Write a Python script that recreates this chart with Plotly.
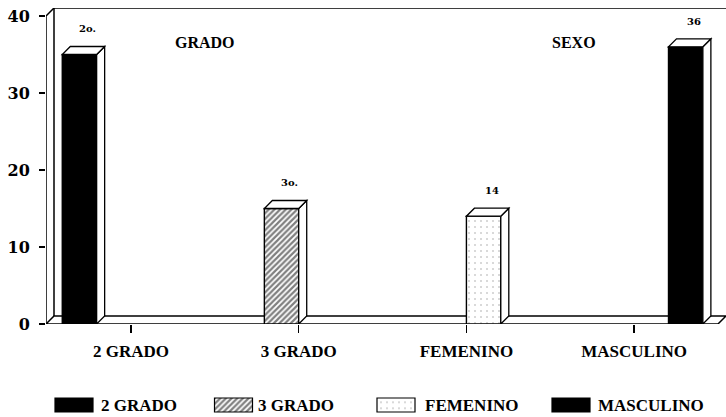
import plotly.graph_objects as go

# ---- data ----
CATEGORIES = ["2 GRADO", "3 GRADO", "FEMENINO", "MASCULINO"]
VALUES = [35, 15, 14, 36]
VALUE_LABELS = ["2o.", "3o.", "14", "36"]
GROUP_LABELS = ["GRADO", "SEXO"]
Y_TICKS = [0, 10, 20, 30, 40]

# ---- styles ----
FILLS = [
    dict(color="black", pattern=dict(shape="")),
    dict(color="white", pattern=dict(shape="/", fgcolor="black", bgcolor="white", size=4, solidity=0.55)),
    dict(color="white", pattern=dict(shape=".", fgcolor="#a0a0a0", bgcolor="white", size=6, solidity=0.1)),
    dict(color="black", pattern=dict(shape="")),
]
SERIF = "Liberation Serif"
W, H = 726, 417
X0PX, X1PX = 46, 726          # plot area horizontal pixels
Y0PX, Y1PX = 324, 8           # plot area vertical pixels (bottom, top)
CAT_PX = 167.7
XMIN = -0.507
XMAX = XMIN + (X1PX - X0PX) / CAT_PX
PX_PER_UNIT = 7.7
YMAX = (Y0PX - Y1PX) / PX_PER_UNIT
DX = 8 / CAT_PX
DY = 8 / PX_PER_UNIT
BAR_W = 0.205
BAR_OFF0 = -0.41
FLOOR_END = 3.5
TOPV = Y_TICKS[-1]

fig = go.Figure()

shapes = []
LINE = dict(color="black", width=1.5)
# back wall
shapes.append(dict(type="path", xref="x", yref="y", layer="below",
                   path=f"M{XMIN+DX},{DY} L{XMIN+DX},{TOPV+DY} L{XMAX+1},{TOPV+DY}",
                   line=LINE))
# front axis
shapes.append(dict(type="path", xref="x", yref="y", layer="below",
                   path=f"M{XMIN},0 L{XMIN},{TOPV} L{XMIN+DX},{TOPV+DY}",
                   line=LINE))
# floor
shapes.append(dict(type="path", xref="x", yref="y", layer="below",
                   path=f"M{XMIN},0 L{FLOOR_END},0 L{FLOOR_END+DX},{DY} L{XMIN+DX},{DY} Z",
                   line=LINE, fillcolor="white"))

annotations = []
for i, (cat, v) in enumerate(zip(CATEGORIES, VALUES)):
    off = BAR_OFF0 + i * BAR_W
    fig.add_trace(go.Bar(x=[i], y=[v], width=BAR_W, offset=off,
                         marker=dict(color=FILLS[i]["color"], pattern=FILLS[i]["pattern"],
                                     line=dict(color="black", width=1.4)),
                         showlegend=False, hoverinfo="skip"))
    x0 = i + off
    x1 = x0 + BAR_W
    # side face
    shapes.append(dict(type="path", xref="x", yref="y", layer="above",
                       path=f"M{x1},0 L{x1+DX},{DY} L{x1+DX},{v+DY} L{x1},{v} Z",
                       line=dict(color="black", width=1.3), fillcolor="white"))
    # top face
    shapes.append(dict(type="path", xref="x", yref="y", layer="above",
                       path=f"M{x0},{v} L{x1},{v} L{x1+DX},{v+DY} L{x0+DX},{v+DY} Z",
                       line=dict(color="black", width=1.3), fillcolor="white"))
    annotations.append(dict(x=(x0 + x1) / 2 + DX, y=v + DY + 2.3, xref="x", yref="y",
                            text=VALUE_LABELS[i], showarrow=False,
                            font=dict(family="DejaVu Serif", size=10, color="black", weight="bold")))

# group labels
for gx, lab in zip([0.44, 2.64], GROUP_LABELS):
    annotations.append(dict(x=gx, y=(Y0PX - 42) / PX_PER_UNIT, xref="x", yref="y", text=lab,
                            showarrow=False,
                            font=dict(family=SERIF, size=16, color="black", weight="bold")))

# custom legend on a hidden axis pair (units: pixels)
LEG_CX = [74, 233.5, 396, 571]
LEG_TX = [99, 256, 423, 596]
for i, cat in enumerate(CATEGORIES):
    fig.add_trace(go.Bar(x=[LEG_CX[i]], y=[14], base=[5], width=38, offset=-19,
                         xaxis="x2", yaxis="y2",
                         marker=dict(color=FILLS[i]["color"], pattern=FILLS[i]["pattern"],
                                     line=dict(color="black", width=1.2)),
                         showlegend=False, hoverinfo="skip"))
    annotations.append(dict(x=LEG_TX[i], y=12, xref="x2", yref="y2", text=cat,
                            xanchor="left", showarrow=False,
                            font=dict(family=SERIF, size=17, color="black", weight="bold")))

fig.update_layout(
    width=W, height=H,
    margin=dict(l=0, r=0, t=0, b=0, autoexpand=False),
    paper_bgcolor="white", plot_bgcolor="white",
    barmode="overlay",
    showlegend=False,
    shapes=shapes,
    annotations=annotations,
    xaxis=dict(domain=[X0PX / W, X1PX / W], range=[XMIN, XMAX], automargin=False,
               tickvals=list(range(len(CATEGORIES))), ticktext=CATEGORIES,
               ticks="outside", ticklen=8, tickwidth=1.3, tickcolor="black",
               showgrid=False, zeroline=False, showline=False,
               tickfont=dict(family=SERIF, size=17, color="black", weight="bold"),
               ticklabelstandoff=4, fixedrange=True),
    yaxis=dict(domain=[(H - Y0PX) / H, (H - Y1PX) / H], range=[0, YMAX], automargin=False,
               tickvals=Y_TICKS, ticks="outside", ticklen=6, tickwidth=1.3, tickcolor="black",
               showgrid=False, zeroline=False, showline=False,
               tickfont=dict(family="DejaVu Serif", size=16, color="black", weight="bold"),
               ticklabelstandoff=6, fixedrange=True),
    xaxis2=dict(domain=[0, 1], range=[0, W], visible=False, anchor="y2", fixedrange=True,
                automargin=False),
    yaxis2=dict(domain=[0, 0.1], range=[0, 0.1 * H], visible=False, anchor="x2", fixedrange=True,
                automargin=False),
)

fig.write_html("out.html", config={"displayModeBar": False, "staticPlot": True},
               post_script="document.body.style.margin='0';document.body.style.overflow='hidden';")
